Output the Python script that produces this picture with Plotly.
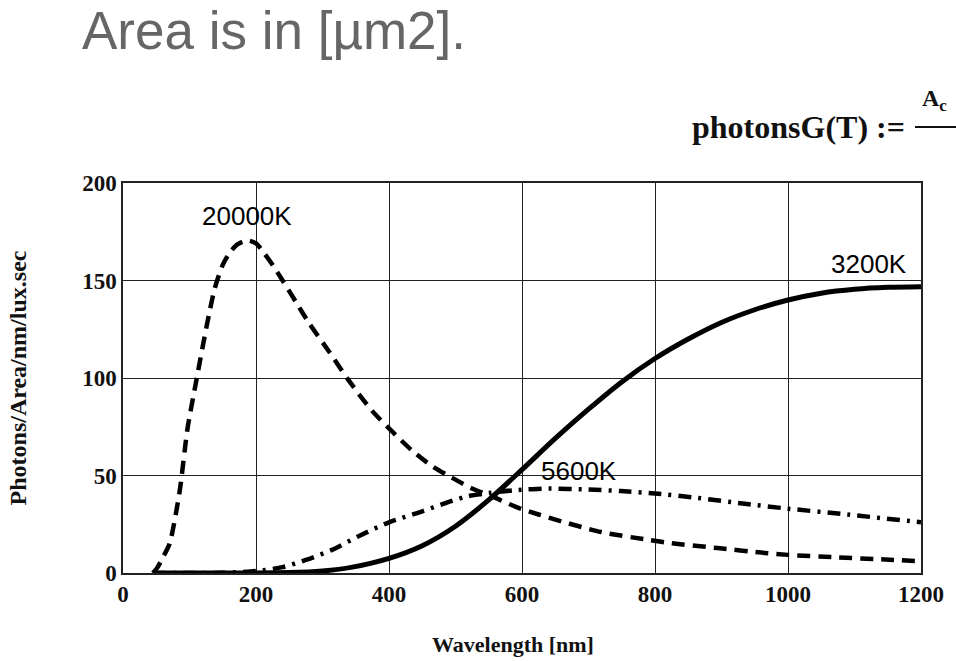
import plotly.graph_objects as go

# ---- data ----
x_20000 = [45, 52, 60, 70, 85, 97, 111, 126, 138, 150, 160, 172, 187, 200, 210, 225, 240, 260, 280, 310, 340, 375,
           405, 434, 464, 494, 524, 560, 590, 625, 659, 719, 790, 824, 894, 965, 1000, 1074, 1140, 1200]
y_20000 = [0, 3, 8, 15, 41.5, 74, 100, 127, 146, 158, 164, 168.5, 170.5, 169, 165, 158, 150, 139, 128, 113.5, 98.5, 83,
           72.5, 63, 55, 49, 43.5, 38.5, 34, 30, 26.5, 21, 17, 15.3, 12.8, 10.3, 9.3, 8, 7, 6]

x_5600 = [45, 150, 200, 240, 275, 315, 355, 400, 449, 490, 520, 550, 590, 640, 700, 749, 800, 864, 935, 1000, 1089, 1200]
y_5600 = [0, 0.1, 1, 3, 6.7, 12, 19, 26, 31.5, 36.5, 39.5, 41, 42.5, 43.3, 42.8, 42, 40.8, 38.5, 35.5, 33, 30, 26]

x_3200 = [45, 250, 300, 345, 400, 450, 500, 550, 600, 650, 700, 750, 800, 850, 900, 950, 1000, 1050, 1100, 1150, 1200]
y_3200 = [0, 0.2, 1, 3, 7.5, 14, 24, 37.5, 53, 69, 84, 98, 110, 120, 128.5, 135, 140, 143.5, 145.5, 146.5, 146.8]

label_text = ["20000K", "3200K", "5600K"]
label_x = [186, 1122, 685]
label_y = [183, 158.5, 52.3]

x_ticks = [0, 200, 400, 600, 800, 1000, 1200]
y_ticks = [0, 50, 100, 150, 200]

serif_bold = dict(family="Liberation Serif", size=23, color="#111", weight="bold")

fig = go.Figure()
fig.add_trace(go.Scatter(x=x_20000, y=y_20000, mode="lines",
                         line=dict(color="black", width=4.5, dash="13px,8px", shape="spline", smoothing=0.7),
                         showlegend=False, hoverinfo="skip"))
fig.add_trace(go.Scatter(x=x_5600, y=y_5600, mode="lines",
                         line=dict(color="black", width=4.5, dash="13px,7px,3px,7px", shape="spline", smoothing=0.7),
                         showlegend=False, hoverinfo="skip"))
fig.add_trace(go.Scatter(x=x_3200, y=y_3200, mode="lines",
                         line=dict(color="black", width=5, shape="spline", smoothing=0.8),
                         showlegend=False, hoverinfo="skip"))

for t, lx, ly in zip(label_text, label_x, label_y):
    fig.add_annotation(x=lx, y=ly, xref="x", yref="y", text=t, showarrow=False,
                       font=dict(family="Liberation Sans", size=26, color="#000"))

# page heading
fig.add_annotation(x=-0.0537, y=1.392, xref="paper", yref="paper", xanchor="left", yanchor="middle",
                   text="Area is in [µm2].", showarrow=False,
                   font=dict(family="Liberation Sans", size=53, color="#666666"))
# formula fragment
fig.add_annotation(x=0.982, y=1.1436, xref="paper", yref="paper", xanchor="right", yanchor="middle",
                   text="photonsG(T) :=", showarrow=False,
                   font=dict(family="Liberation Serif", size=32, color="#111", weight="bold"))
fig.add_annotation(x=0.999, y=1.2128, xref="paper", yref="paper", xanchor="left", yanchor="middle",
                   text="A<sub>c</sub>", showarrow=False,
                   font=dict(family="Liberation Serif", size=24, color="#111", weight="bold"))
fig.add_shape(type="line", xref="paper", yref="paper", x0=0.9925, x1=1.06, y0=1.1436, y1=1.1436,
              line=dict(color="#111", width=2))

# axis titles
fig.add_annotation(x=0.489, y=-0.1846, xref="paper", yref="paper", xanchor="center", yanchor="middle",
                   text="Wavelength [nm]", showarrow=False,
                   font=dict(family="Liberation Serif", size=22, color="#111", weight="bold"))
fig.add_annotation(x=-0.131, y=0.5, xref="paper", yref="paper", xanchor="center", yanchor="middle",
                   text="Photons/Area/nm/lux.sec", textangle=-90, showarrow=False,
                   font=dict(family="Liberation Serif", size=24, color="#111", weight="bold"))

axis_common = dict(showgrid=True, gridcolor="#222", gridwidth=1, showline=True, mirror=True,
                   linecolor="#222", linewidth=1.5, ticks="", zeroline=False, tickfont=serif_bold)
fig.update_xaxes(range=[0, 1200], tickvals=x_ticks, **axis_common)
fig.update_yaxes(range=[0, 200], tickvals=y_ticks, **axis_common)

fig.update_layout(width=956, height=661, margin=dict(l=123, r=32, t=183, b=88),
                  plot_bgcolor="white", paper_bgcolor="white", showlegend=False)

fig.write_html("out.html")
